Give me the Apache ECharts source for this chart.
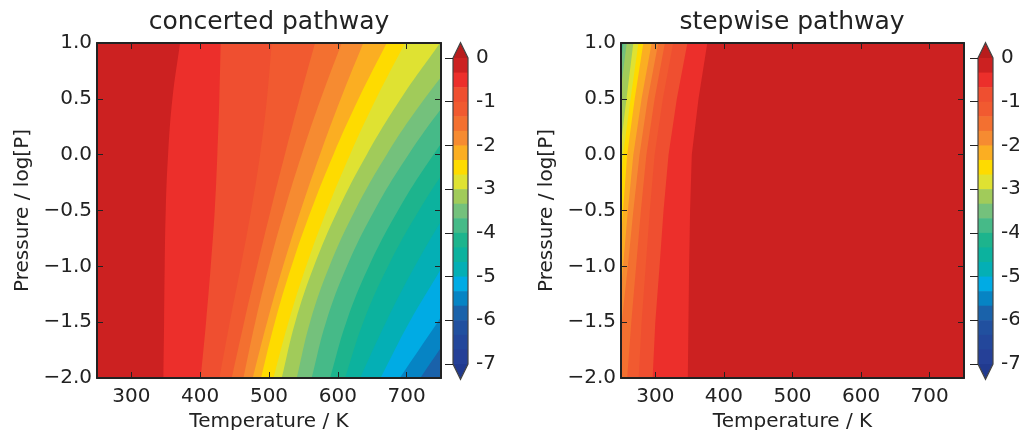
<!DOCTYPE html>
<html><head><meta charset="utf-8">
<script src="https://cdn.jsdelivr.net/npm/echarts@6/dist/echarts.min.js"></script>
<style>html,body{margin:0;padding:0;background:#fff}#c{width:1019px;height:430px}</style>
</head><body><div id="c"></div>
<script>
// ---------------- data ----------------
const pressureSamples = [1.0, 0.5, 0.0, -0.5, -1.0, -1.5, -2.0];   // log[P] rows where boundaries were read
const temperatureTicks = [300, 400, 500, 600, 700];
const colorbarTicks = [0, -1, -2, -3, -4, -5, -6, -7];
const colorbarLevels = [0, -1/3, -2/3, -1, -4/3, -5/3, -2, -7/3, -8/3, -3, -10/3, -11/3,
                        -4, -13/3, -14/3, -5, -16/3, -17/3, -6, -19/3, -20/3, -7];
const bandColors = ['#cc2121', '#ec2f2b', '#ef4f30', '#f15a30', '#f37030', '#f68b31', '#fbae22',
                    '#fedb00', '#dfe232', '#a1cb5a', '#74c17c', '#46ba88', '#1db48d', '#0cb29e',
                    '#04afb5', '#00abe4', '#0684c4', '#1a62aa', '#21509f', '#23479b', '#254097'];
const overColor = '#b81c1c';
const underColor = '#213a8f';

// contour levels (value below which region is filled) and boundary temperature (K) at each pressure sample
const concertedLevels = [-1/3, -2/3, -1, -4/3, -5/3, -2, -7/3, -8/3, -3, -10/3, -11/3, -4, -13/3, -14/3, -5, -16/3, -17/3];
const concertedBoundaryT = [
  [370.7, 359.6, 353.3, 349.9, 348.4, 347.5, 346.5],
  [429.8, 427.8, 424.9, 421.1, 415.3, 408.5, 400.7],
  [504.0, 497.0, 487.0, 474.0, 459.0, 443.0, 427.9],
  [566.9, 544.5, 523.0, 502.4, 482.7, 463.8, 445.8],
  [605.7, 575.3, 547.5, 522.4, 499.9, 480.0, 462.8],
  [637.0, 604.3, 574.0, 546.0, 520.4, 497.2, 476.3],
  [671.0, 630.2, 593.6, 561.1, 532.7, 508.5, 488.4],
  [697.7, 655.7, 617.8, 583.9, 554.0, 528.3, 506.4],
  [748.6, 691.5, 642.0, 599.9, 565.3, 538.1, 518.5],
  [790.0, 726.0, 671.0, 625.0, 587.8, 559.6, 540.3],
  [830.0, 761.6, 702.6, 653.2, 613.2, 582.8, 562.0],
  [870.0, 799.9, 739.0, 687.5, 645.2, 612.3, 588.7],
  [910.0, 835.0, 772.0, 718.0, 673.0, 637.0, 610.5],
  [960.0, 880.0, 815.0, 760.0, 712.0, 670.0, 632.3],
  [1000.0, 920.0, 850.0, 795.0, 752.0, 704.0, 662.0],
  [1050.0, 970.0, 900.0, 848.0, 800.0, 745.0, 690.0],
  [1080.0, 1000.0, 935.0, 880.0, 830.0, 775.0, 720.0]
];
const stepwiseLevels = [-1/3, -2/3, -1, -4/3, -5/3, -2, -7/3, -8/3, -3, -10/3, -11/3, -4];
const stepwiseBoundaryT = [
  [375.8, 363.0, 353.2, 350.7, 349.3, 348.3, 347.4],
  [346.8, 331.4, 319.3, 312.0, 306.2, 300.0, 296.1],
  [326.1, 311.0, 299.0, 292.0, 286.0, 280.0, 275.8],
  [314.0, 299.0, 287.0, 279.0, 272.0, 265.0, 259.0],
  [304.3, 289.0, 277.0, 268.0, 260.0, 251.0, 244.0],
  [294.7, 280.0, 268.0, 260.0, 253.0, 246.0, 240.0],
  [282.6, 270.0, 259.0, 253.0, 247.0, 241.0, 235.0],
  [275.4, 264.0, 253.0, 247.0, 241.0, 235.0, 229.0],
  [268.0, 258.0, 248.0, 241.0, 235.0, 229.0, 223.0],
  [258.4, 248.0, 240.0, 234.0, 228.0, 222.0, 216.0],
  [253.6, 243.0, 235.0, 229.0, 223.0, 217.0, 211.0],
  [250.8, 240.0, 232.0, 226.0, 220.0, 214.0, 208.0]
];

// ---------------- chart ----------------
const FONT = 'DejaVu Sans';
const INK = '#222';
const chart = echarts.init(document.getElementById('c'), null, {renderer: 'canvas'});

function bandIndexBelow(level) {
  let best = 0, d = Infinity;
  colorbarLevels.forEach((v, i) => { const dd = Math.abs(v - level); if (dd < d) { d = dd; best = i; } });
  return best;
}

function tempAxis(gridIndex, position, showLabel) {
  const ax = {
    type: 'value', gridIndex, position, min: 250, max: 750, z: 10,
    axisLine: {show: true, onZero: false, lineStyle: {color: INK, width: 2}},
    axisTick: {show: true, inside: true, length: 6, customValues: temperatureTicks, lineStyle: {color: INK, width: 1}},
    axisLabel: {show: showLabel, customValues: temperatureTicks, fontSize: 20, color: INK, margin: 9, fontFamily: FONT},
    splitLine: {show: false}
  };
  if (showLabel) {
    Object.assign(ax, {name: 'Temperature / K', nameLocation: 'middle', nameGap: 28,
      nameTextStyle: {fontSize: 20, color: INK, fontFamily: FONT}});
  }
  return ax;
}
function pressureAxis(gridIndex, position, showLabel) {
  const ax = {
    type: 'value', gridIndex, position, min: -2, max: 1, interval: 0.5, z: 10,
    axisLine: {show: true, onZero: false, lineStyle: {color: INK, width: 2}},
    axisTick: {show: true, inside: true, length: 6, lineStyle: {color: INK, width: 1}},
    axisLabel: {show: showLabel, fontSize: 20, color: INK, margin: 5, fontFamily: FONT,
      formatter: v => v.toFixed(1).replace('-', '\u2212')},
    splitLine: {show: false}
  };
  if (showLabel) {
    Object.assign(ax, {name: 'Pressure / log[P]', nameLocation: 'middle', nameGap: 64,
      nameTextStyle: {fontSize: 20, color: INK, fontFamily: FONT}});
  }
  return ax;
}
function cbarXAxis(gridIndex) {
  return {type: 'value', gridIndex, min: 0, max: 1, show: false};
}
function cbarYAxis(gridIndex) {
  return {
    type: 'value', gridIndex, position: 'right', min: -7, max: 0, interval: 1, z: 10,
    axisLine: {show: false},
    axisTick: {show: true, inside: true, length: 8, lineStyle: {color: INK, width: 1}},
    axisLabel: {show: true, fontSize: 20, color: INK, margin: 8, fontFamily: FONT,
      formatter: v => String(Math.round(v))},
    splitLine: {show: false}
  };
}

function contourSeries(axisIndex, levels, rows, lowSide, smooth) {
  return {
    type: 'custom', xAxisIndex: axisIndex, yAxisIndex: axisIndex, clip: true, silent: true, z: 2,
    data: rows.map((r, i) => [r[0], pressureSamples[0], i]),
    renderItem(params, api) {
      const i = params.dataIndex;
      const r = rows[i];
      const pts = r.map((t, j) => api.coord([t, pressureSamples[j]]));
      const farT = lowSide === 'right' ? 5000 : -5000;
      // repeat the end points so that smoothing keeps the end tangents along the curve
      const path = [pts[0]].concat(pts, [pts[pts.length - 1]]);
      path.push(api.coord([farT, pressureSamples[pressureSamples.length - 1]]));
      path.push(api.coord([farT, pressureSamples[0]]));
      const color = bandColors[bandIndexBelow(levels[i])];
      return {type: 'polygon', shape: {points: path, smooth: smooth}, style: {fill: color}};
    }
  };
}

function colorbarSeries(axisIndex) {
  const top = colorbarLevels[0], bot = colorbarLevels[colorbarLevels.length - 1];
  const ext = 0.05 * (top - bot);
  return [{
    type: 'custom', xAxisIndex: axisIndex, yAxisIndex: axisIndex, silent: true, z: 2,
    data: bandColors.map((c, i) => [0.5, (colorbarLevels[i] + colorbarLevels[i + 1]) / 2, i]),
    renderItem(params, api) {
      const i = params.dataIndex;
      const p1 = api.coord([0, colorbarLevels[i]]);
      const p2 = api.coord([1, colorbarLevels[i + 1]]);
      return {type: 'rect', shape: {x: p1[0], y: p1[1], width: p2[0] - p1[0], height: p2[1] - p1[1] + 0.6},
        style: {fill: bandColors[i]}};
    }
  }, {
    type: 'custom', xAxisIndex: axisIndex, yAxisIndex: axisIndex, silent: true, z: 3,
    data: [[0.5, top]],
    renderItem(params, api) {
      const c = (x, y) => api.coord([x, y]);
      return {type: 'group', children: [
        {type: 'polygon', shape: {points: [c(0, top), c(0.5, top + ext), c(1, top)]}, style: {fill: overColor}},
        {type: 'polygon', shape: {points: [c(0, bot), c(0.5, bot - ext), c(1, bot)]}, style: {fill: underColor}},
        {type: 'polygon', shape: {points: [c(0, top), c(0.5, top + ext), c(1, top), c(1, bot), c(0.5, bot - ext), c(0, bot)]},
          style: {fill: null, stroke: '#444', lineWidth: 1.2}}
      ]};
    }
  }];
}

const option = {
  animation: false,
  backgroundColor: '#fff',
  textStyle: {fontFamily: FONT},
  grid: [
    {left: 97, top: 43, width: 344, height: 335, show: true, backgroundColor: bandColors[0], borderWidth: 0, outerBoundsMode: 'none', containLabel: false},
    {left: 621, top: 43, width: 343, height: 335, show: true, backgroundColor: bandColors[0], borderWidth: 0, outerBoundsMode: 'none', containLabel: false},
    {left: 453, top: 58, width: 15, height: 306, outerBoundsMode: 'none', containLabel: false},
    {left: 978, top: 58, width: 15, height: 306, outerBoundsMode: 'none', containLabel: false}
  ],
  xAxis: [tempAxis(0, 'bottom', true), tempAxis(0, 'top', false),
          tempAxis(1, 'bottom', true), tempAxis(1, 'top', false),
          cbarXAxis(2), cbarXAxis(3)],
  yAxis: [pressureAxis(0, 'left', true), pressureAxis(0, 'right', false),
          pressureAxis(1, 'left', true), pressureAxis(1, 'right', false),
          cbarYAxis(2), cbarYAxis(3)],
  graphic: [
    {type: 'text', x: 269, y: 22, style: {text: 'concerted pathway', fontSize: 25, fontFamily: FONT, fill: INK, textAlign: 'center', textVerticalAlign: 'middle'}},
    {type: 'text', x: 792, y: 22, style: {text: 'stepwise pathway', fontSize: 25, fontFamily: FONT, fill: INK, textAlign: 'center', textVerticalAlign: 'middle'}}
  ],
  series: [
    contourSeries(0, concertedLevels, concertedBoundaryT, 'right', 0.4),
    contourSeries(2, stepwiseLevels, stepwiseBoundaryT, 'left', 0),
    ...colorbarSeries(4),
    ...colorbarSeries(5)
  ]
};
chart.setOption(option);
</script></body></html>
